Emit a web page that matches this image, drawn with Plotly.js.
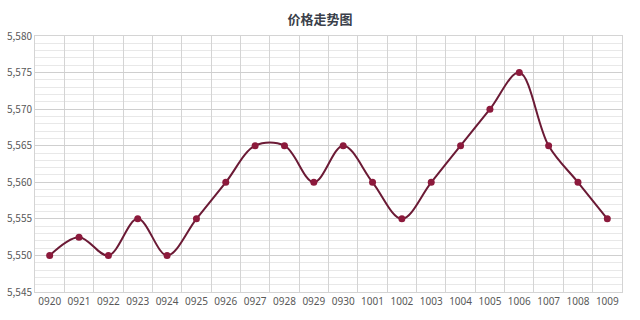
<!DOCTYPE html>
<html>
<head>
<meta charset="utf-8">
<script src="https://cdn.plot.ly/plotly-3.0.1.min.js"></script>
<style>html,body{margin:0;padding:0;background:#fff;}#chart{width:640px;height:320px;}</style>
</head>
<body>
<div id="chart"></div>
<script>
var categories = ["0920","0921","0922","0923","0924","0925","0926","0927","0928","0929","0930","1001","1002","1003","1004","1005","1006","1007","1008","1009"];
var prices = [5.550,5.5525,5.550,5.555,5.550,5.555,5.560,5.565,5.565,5.560,5.565,5.560,5.555,5.560,5.565,5.570,5.575,5.565,5.560,5.555];
var titleText = "价格走势图";

var trace = {
  x: categories,
  y: prices,
  type: "scatter",
  mode: "lines+markers",
  line: {shape: "spline", smoothing: 1, color: "#6b1a35", width: 2},
  marker: {color: "#8c1a3c", size: 7},
  hoverinfo: "x+y"
};

var layout = {
  width: 640, height: 320,
  margin: {l: 35, r: 18, t: 36, b: 28},
  paper_bgcolor: "#ffffff",
  plot_bgcolor: "#ffffff",
  separators: ",.",
  showlegend: false,
  title: {text: titleText, x: 0.5, xanchor: "center", y: 0.94, yanchor: "middle",
          font: {family: "Noto Sans CJK SC", size: 13, color: "#3a3f4a", weight: "bold"}},
  xaxis: {
    type: "category",
    tickson: "boundaries",
    tickangle: 0,
    showgrid: true, gridcolor: "#d4d4d4", gridwidth: 1,
    showline: true, linecolor: "#d4d4d4",
    ticks: "",
    tickfont: {family: "Liberation Sans Narrow, Noto Sans", size: 10, color: "#595959"},
    range: [-0.5, categories.length - 0.5],
    mirror: true,
    zeroline: false
  },
  yaxis: {
    range: [5.545, 5.580],
    dtick: 0.005, tick0: 5.545,
    tickformat: ",.3f",
    showgrid: true, gridcolor: "#cfcfcf", gridwidth: 1,
    minor: {dtick: 0.001, showgrid: true, gridcolor: "#e8e8e8", gridwidth: 1},
    showline: true, linecolor: "#d4d4d4", mirror: true,
    zeroline: false,
    ticks: "",
    tickfont: {family: "Noto Sans CJK SC", size: 10, color: "#595959"}
  }
};

Plotly.newPlot("chart", [trace], layout, {displayModeBar: false, staticPlot: true});
</script>
</body>
</html>
